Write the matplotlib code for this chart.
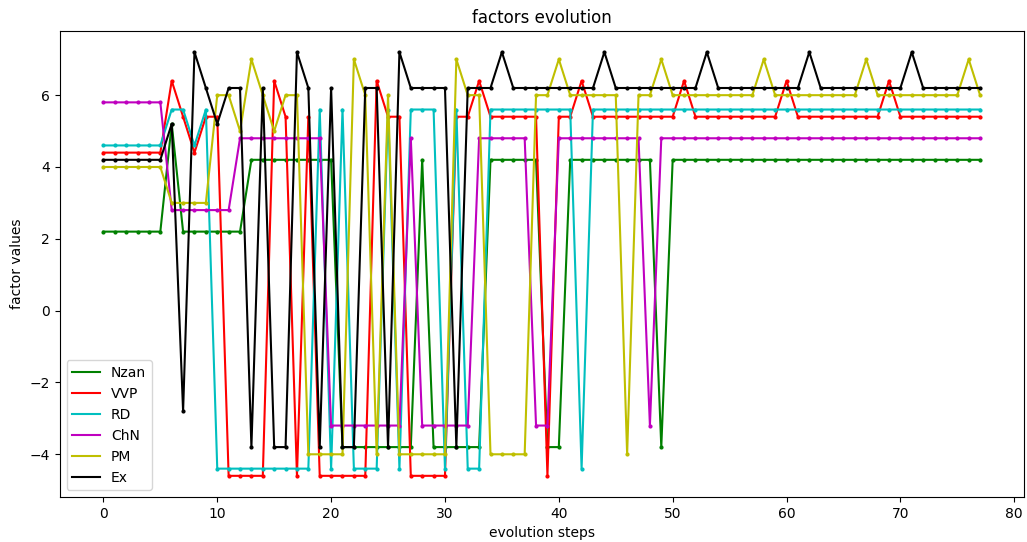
import matplotlib
matplotlib.use('Agg')
import matplotlib.pyplot as plt
from matplotlib.lines import Line2D

steps = list(range(78))

nzan = [2.2, 2.2, 2.2, 2.2, 2.2, 2.2, 5.2, 2.2, 2.2, 2.2,
        2.2, 2.2, 2.2, 4.2, 4.2, 4.2, 4.2, 4.2, 4.2, 4.2,
        4.2, -3.8, -3.8, -3.8, -3.8, -3.8, -3.8, -3.8, 4.2, -3.8,
        -3.8, -3.8, -3.8, -3.8, 4.2, 4.2, 4.2, 4.2, 4.2, -3.8,
        -3.8, 4.2, 4.2, 4.2, 4.2, 4.2, 4.2, 4.2, 4.2, -3.8,
        4.2, 4.2, 4.2, 4.2, 4.2, 4.2, 4.2, 4.2, 4.2, 4.2,
        4.2, 4.2, 4.2, 4.2, 4.2, 4.2, 4.2, 4.2, 4.2, 4.2,
        4.2, 4.2, 4.2, 4.2, 4.2, 4.2, 4.2, 4.2]

vvp = [4.4, 4.4, 4.4, 4.4, 4.4, 4.4, 6.4, 5.4, 4.4, 5.4,
       5.4, -4.6, -4.6, -4.6, -4.6, 6.4, 5.4, -4.6, 5.4, -4.6,
       -4.6, -4.6, -4.6, -4.6, 6.4, 5.4, 5.4, -4.6, -4.6, -4.6,
       -4.6, 5.4, 5.4, 6.4, 5.4, 5.4, 5.4, 5.4, 5.4, -4.6,
       5.4, 5.4, 6.4, 5.4, 5.4, 5.4, 5.4, 5.4, 5.4, 5.4,
       5.4, 6.4, 5.4, 5.4, 5.4, 5.4, 5.4, 5.4, 5.4, 5.4,
       6.4, 5.4, 5.4, 5.4, 5.4, 5.4, 5.4, 5.4, 5.4, 6.4,
       5.4, 5.4, 5.4, 5.4, 5.4, 5.4, 5.4, 5.4]

rd = [4.6, 4.6, 4.6, 4.6, 4.6, 4.6, 5.6, 5.6, 4.6, 5.6,
      -4.4, -4.4, -4.4, -4.4, -4.4, -4.4, -4.4, -4.4, -4.4, 5.6,
      -4.4, 5.6, -4.4, -4.4, -4.4, 5.6, -4.4, 5.6, 5.6, 5.6,
      -4.4, 5.6, -4.4, -4.4, 5.6, 5.6, 5.6, 5.6, 5.6, 5.6,
      5.6, 5.6, -4.4, 5.6, 5.6, 5.6, 5.6, 5.6, 5.6, 5.6,
      5.6, 5.6, 5.6, 5.6, 5.6, 5.6, 5.6, 5.6, 5.6, 5.6,
      5.6, 5.6, 5.6, 5.6, 5.6, 5.6, 5.6, 5.6, 5.6, 5.6,
      5.6, 5.6, 5.6, 5.6, 5.6, 5.6, 5.6, 5.6]

chn = [5.8, 5.8, 5.8, 5.8, 5.8, 5.8, 2.8, 2.8, 2.8, 2.8,
       2.8, 2.8, 4.8, 4.8, 4.8, 4.8, 4.8, 4.8, 4.8, 4.8,
       -3.2, -3.2, -3.2, -3.2, -3.2, -3.2, -3.2, 4.8, -3.2, -3.2,
       -3.2, -3.2, -3.2, 4.8, 4.8, 4.8, 4.8, 4.8, -3.2, -3.2,
       4.8, 4.8, 4.8, 4.8, 4.8, 4.8, 4.8, 4.8, -3.2, 4.8,
       4.8, 4.8, 4.8, 4.8, 4.8, 4.8, 4.8, 4.8, 4.8, 4.8,
       4.8, 4.8, 4.8, 4.8, 4.8, 4.8, 4.8, 4.8, 4.8, 4.8,
       4.8, 4.8, 4.8, 4.8, 4.8, 4.8, 4.8, 4.8]

pm = [4.0, 4.0, 4.0, 4.0, 4.0, 4.0, 3.0, 3.0, 3.0, 3.0,
      6.0, 6.0, 5.0, 7.0, 6.0, 5.0, 6.0, 6.0, -4.0, -4.0,
      -4.0, -4.0, 7.0, 6.0, -4.0, 6.0, -4.0, -4.0, -4.0, -4.0,
      -4.0, 7.0, 6.0, 6.0, -4.0, -4.0, -4.0, -4.0, 6.0, 6.0,
      7.0, 6.0, 6.0, 6.0, 6.0, 6.0, -4.0, 6.0, 6.0, 7.0,
      6.0, 6.0, 6.0, 6.0, 6.0, 6.0, 6.0, 6.0, 7.0, 6.0,
      6.0, 6.0, 6.0, 6.0, 6.0, 6.0, 6.0, 7.0, 6.0, 6.0,
      6.0, 6.0, 6.0, 6.0, 6.0, 6.0, 7.0, 6.0]

ex = [4.2, 4.2, 4.2, 4.2, 4.2, 4.2, 5.2, -2.8, 7.2, 6.2,
      5.2, 6.2, 6.2, -3.8, 6.2, -3.8, -3.8, 7.2, 6.2, -3.8,
      6.2, -3.8, -3.8, 6.2, 6.2, -3.8, 7.2, 6.2, 6.2, 6.2,
      6.2, -3.8, 6.2, 6.2, 6.2, 7.2, 6.2, 6.2, 6.2, 6.2,
      6.2, 6.2, 6.2, 6.2, 7.2, 6.2, 6.2, 6.2, 6.2, 6.2,
      6.2, 6.2, 6.2, 7.2, 6.2, 6.2, 6.2, 6.2, 6.2, 6.2,
      6.2, 6.2, 7.2, 6.2, 6.2, 6.2, 6.2, 6.2, 6.2, 6.2,
      6.2, 7.2, 6.2, 6.2, 6.2, 6.2, 6.2, 6.2]

series = [
    ('Nzan', nzan, 'g'),
    ('VVP', vvp, 'r'),
    ('RD', rd, 'c'),
    ('ChN', chn, 'm'),
    ('PM', pm, 'y'),
    ('Ex', ex, 'k'),
]

fig = plt.figure(figsize=(10.27, 5.42), dpi=100)
ax = fig.add_subplot(111)
fig.subplots_adjust(left=0.058, right=0.997, top=0.943, bottom=0.083)

handles = []
for name, values, color in series:
    ax.plot(steps, values, color + '.-', markersize=4, linewidth=1.5)
    # legend shows plain lines, no dots
    handles.append(Line2D([], [], color=color, linewidth=1.5, label=name))

ax.set_title('factors evolution')
ax.set_xlabel('evolution steps')
ax.set_ylabel('factor values')
ax.legend(handles=handles, loc='lower left')

fig.savefig('out.png', dpi=100)
